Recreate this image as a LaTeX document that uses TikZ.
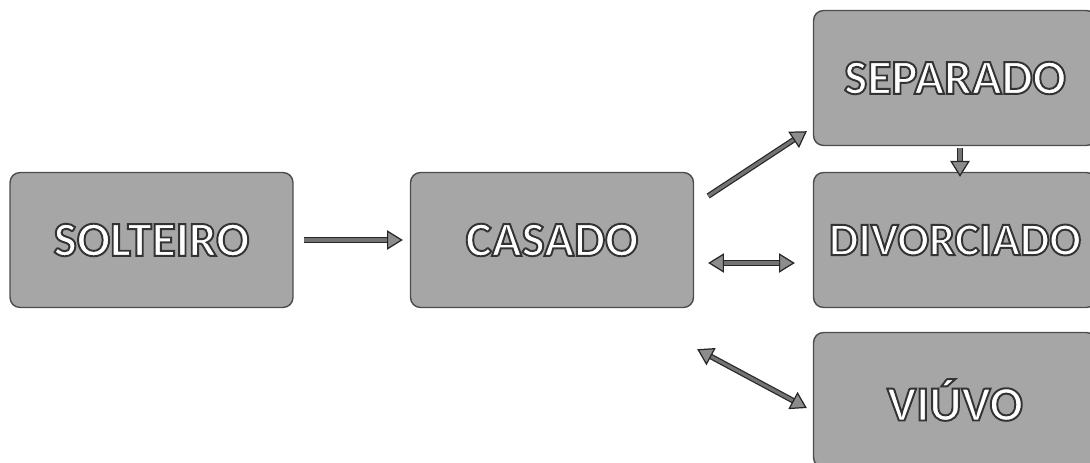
\documentclass[tikz,border=0pt]{standalone}
\usepackage{fontspec}
\setmainfont{Carlito}
\usetikzlibrary{arrows.meta,calc}
\newcommand\otx[1]{\special{pdf:literal q 2 Tr 1.1 w 0.2 0.2 0.2 RG 1 1 1 rg}#1\special{pdf:literal Q}}
\tikzset{
  box/.style={draw=black!70, line width=0.8pt, fill=black!35, rounded corners=0.2cm,
    minimum width=5.66cm, minimum height=2.7cm, inner sep=0pt,
    font=\fontsize{28}{34}\selectfont\bfseries},
  arr/.style={draw=black!85, line width=0.7pt, double=black!55, double distance=1.8pt,
    -{Triangle[width=11pt,length=9pt,fill=black!45]}},
  darr/.style={arr, {Triangle[width=11pt,length=9pt,fill=black!45]}-{Triangle[width=11pt,length=9pt,fill=black!45]}}
}
\begin{document}
\begin{tikzpicture}[x=0.02cm,y=-0.02cm]
\useasboundingbox (0,0) rectangle (1090,463);
\clip (0,0) rectangle (1090,463);
\node[box] (sol) at (151.5,240) {\otx{SOLTEIRO}};
\node[box] (cas) at (552,240) {\otx{CASADO}};
\node[box] (sep) at (955,78) {\otx{SEPARADO}};
\node[box, font=\fontsize{26.5}{34}\selectfont\bfseries] (div) at (955,240) {\otx{DIVORCIADO}};
\node[box] (viu) at (955,400) {\otx{VIÚVO}};
\draw[arr] ($(sol.east)+(10,0)$) -- ($(cas.west)+(-7,0)$);
\draw[arr] ($(cas.east)+(14,-44)$) -- ($(sep.south west)+(-6,-15)$);
\draw[arr] ($(sep.south)+(5,2)$) -- ($(div.north)+(5,5)$);
\draw[darr] ($(cas.east)+(14,23)$) -- ($(div.west)+(-18,23)$);
\draw[darr] ($(cas.south east)+(3,41)$) -- ($(viu.west)+(-6,8)$);
\end{tikzpicture}
\end{document}
